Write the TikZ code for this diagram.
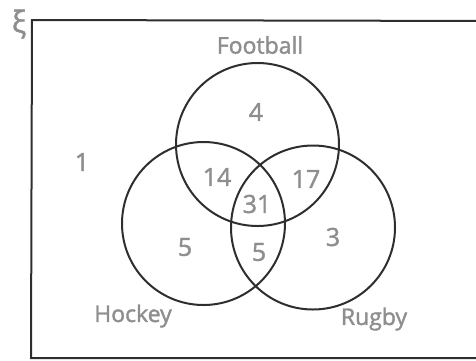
\documentclass[tikz,border=0pt]{standalone}
\usepackage{fontspec}
\setmainfont{Open Sans}
\newfontfamily\medfont{Open Sans}[FakeBold=1.6]
\definecolor{txtgray}{HTML}{8E8E8E}
\definecolor{linegray}{HTML}{2E2E2E}
\begin{document}
\begin{tikzpicture}[x=1pt,y=-1pt,
  setcircle/.style={draw=linegray,line width=2pt,circle,minimum size=163pt,inner sep=0pt},
  lbl/.style={text=txtgray,font=\fontsize{23}{23}\medfont\selectfont,inner sep=0pt},
  num/.style={text=txtgray,font=\fontsize{25}{25}\medfont\selectfont,inner sep=0pt}]
\useasboundingbox (0,0) rectangle (476,360);
\draw[linegray,line width=2pt] (500,21) -- (32,20) -- (31,358) -- (500,358);
\node[text=txtgray,font=\fontsize{30}{30}\medfont\selectfont,inner sep=0pt] (xi) at (19,24) {ξ};
\node[setcircle] (F) at (257.5,144.5) {};
\node[setcircle] (H) at (203.5,223.5) {};
\node[setcircle,minimum size=164pt] (R) at (313,227.5) {};
\node[lbl] (lf) at (260,45) {Football};
\node[lbl] (lh) at (133,316) {Hockey};
\node[lbl] (lr) at (374,319) {Rugby};
\node[num] (n1) at (82,162) {1};
\node[num] (n4) at (256,112) {4};
\node[num] (n14) at (217,177) {14};
\node[num] (n17) at (306,179) {17};
\node[num] (n31) at (257,204) {31};
\node[num] (n5a) at (185,247) {5};
\node[num] (n5b) at (259,252) {5};
\node[num] (n3) at (333,237) {3};
\end{tikzpicture}
\end{document}
